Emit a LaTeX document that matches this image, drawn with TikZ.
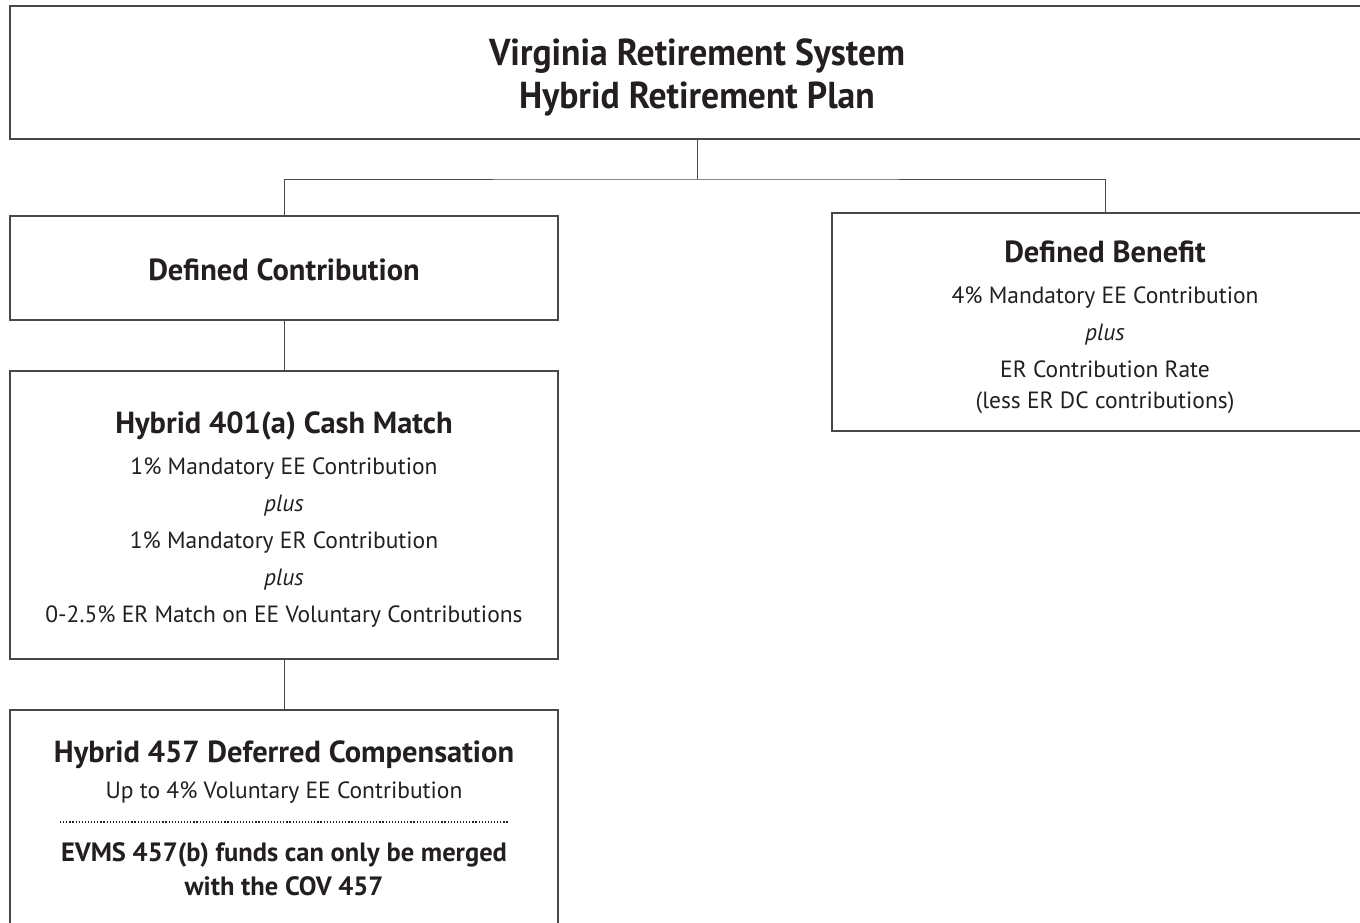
\documentclass[tikz,border=0pt]{standalone}
\usepackage{fontspec}
\setmainfont{PT Sans}
\newfontfamily\titlefont[FakeStretch=0.95]{PT Sans}
\definecolor{ink}{RGB}{35,31,32}
\definecolor{frame}{RGB}{72,72,72}
\tikzset{
  box/.style={draw=frame, line width=1.3pt, rectangle, inner sep=0pt},
  txt/.style={inner sep=0pt, align=center, text=ink, font=\fontsize{23.5}{37}\selectfont},
  link/.style={draw=frame, line width=1pt},
  dotsep/.style={draw=ink, line width=1.3pt, dash pattern=on 1.2pt off 1.9pt},
}
\newcommand\hd[1]{{\bfseries\fontsize{30.5}{37}\selectfont #1}}
\newcommand\hdb[1]{{\bfseries\fontsize{26.5}{37}\selectfont #1}}
\begin{document}
\begin{tikzpicture}[x=1pt,y=-1pt]
\useasboundingbox (0,0) rectangle (1360,923);
\clip (0,0) rectangle (1360,923);
% boxes
\node[box, minimum width=1374pt, minimum height=133pt] (top) at (697,72.5) {};
\node[box, minimum width=548pt, minimum height=104pt] (dc) at (284,268) {};
\node[box, minimum width=546pt, minimum height=218pt] (db) at (1105,322) {};
\node[box, minimum width=548pt, minimum height=288pt] (m401) at (284,515) {};
\node[box, minimum width=548pt, minimum height=220pt] (d457) at (284,820) {};
% texts
\node[txt, font=\titlefont\bfseries\fontsize{37.5}{43}\selectfont] (topt) at (697,77)
  {Virginia Retirement System\\Hybrid Retirement Plan};
\node[txt] (dct) at (284,270) {\hd{Defined Contribution}};
\node[txt] (dbt) at (1105,327.5)
  {\hd{Defined Benefit}\\[4pt]
   4\% Mandatory EE Contribution\\
   \textit{plus}\\
   ER Contribution Rate\\[-6pt]
   (less ER DC contributions)};
\node[txt] (m401t) at (284,519.5)
  {\hd{Hybrid 401(a) Cash Match}\\[4pt]
   1\% Mandatory EE Contribution\\
   \textit{plus}\\
   1\% Mandatory ER Contribution\\
   \textit{plus}\\
   0-2.5\% ER Match on EE Voluntary Contributions};
\node[txt] (d457t) at (284,818)
  {\hd{Hybrid 457 Deferred Compensation}\\[-1pt]
   Up to 4\% Voluntary EE Contribution\\[26pt]
   \hdb{EVMS 457(b) funds can only be merged}\\[-3pt]
   \hdb{with the COV 457}};
% connectors
\coordinate (jn) at (697,179);
\draw[link] (top.south) -- (jn);
\draw[link] (dc.north) |- (jn) -| (db.north);
\draw[link] (dc.south) -- (m401.north);
\draw[link] (m401.south) -- (d457.north);
\coordinate (dl) at (60,822);
\coordinate (dr) at (508,822);
\draw[dotsep] (dl) -- (dr);
\end{tikzpicture}
\end{document}
